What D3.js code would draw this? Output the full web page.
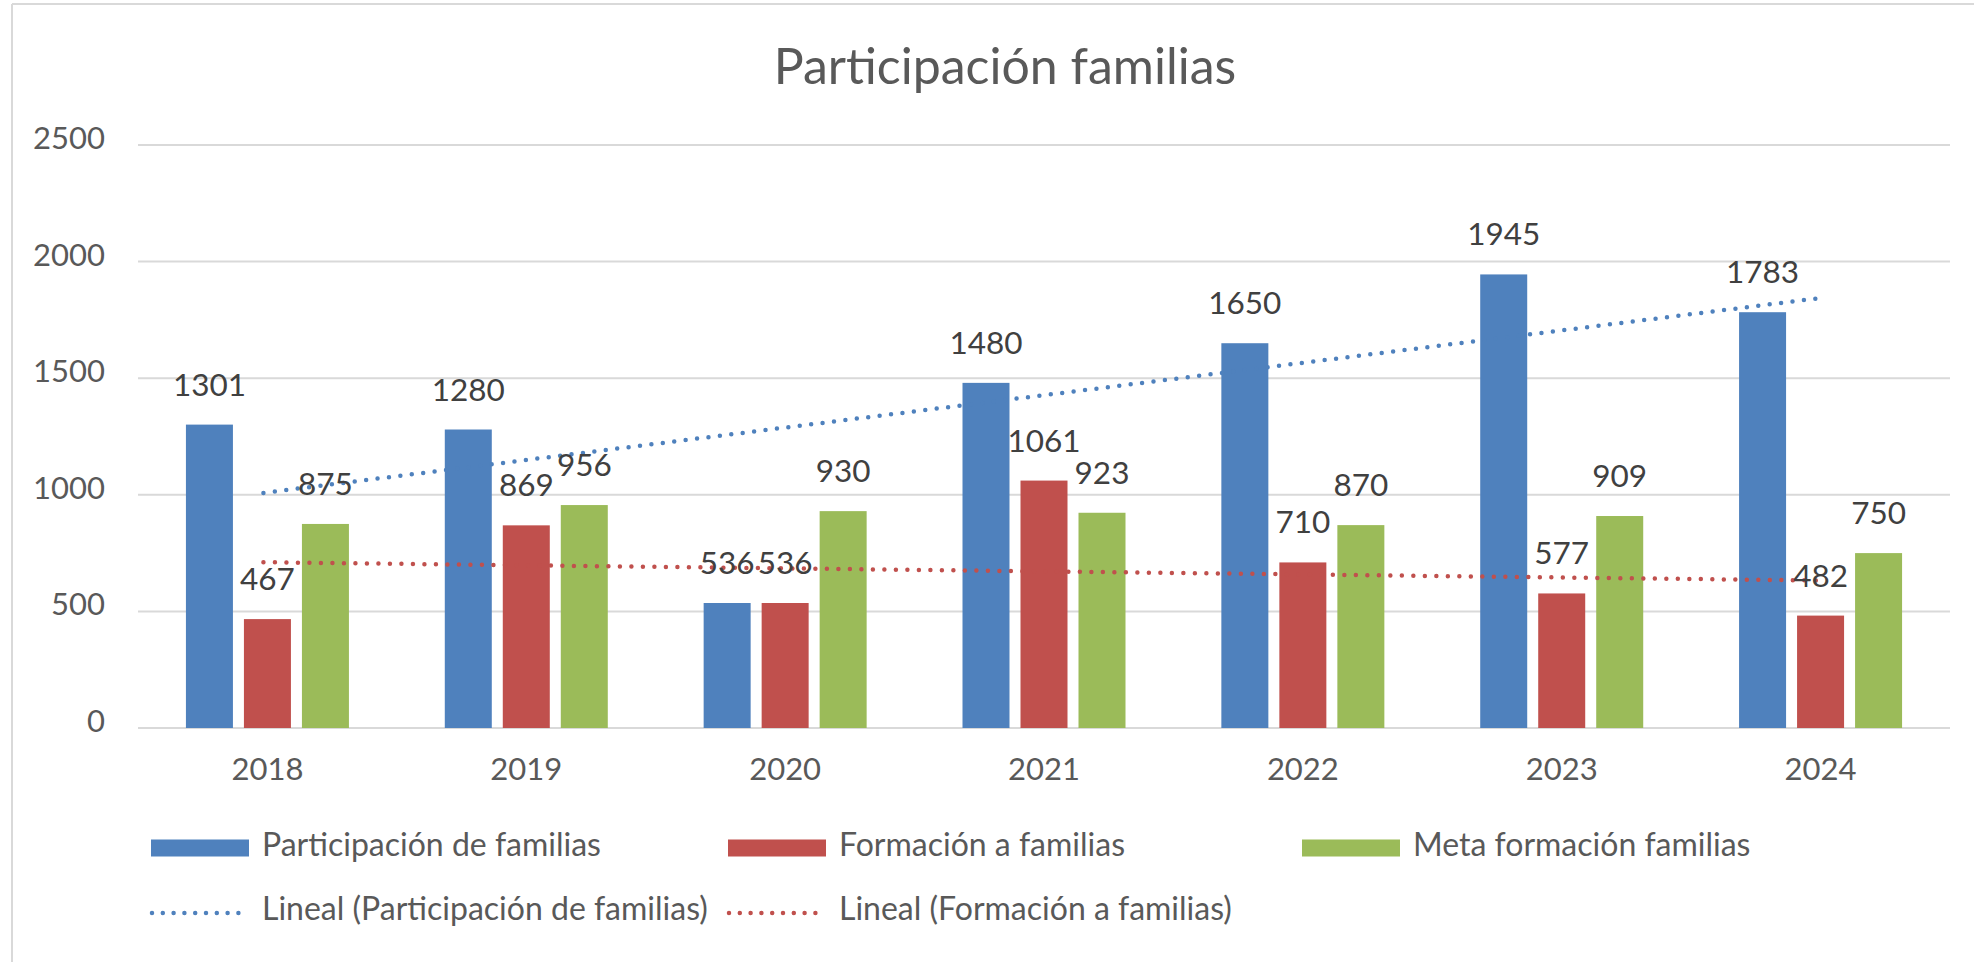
<!DOCTYPE html>
<html>
<head>
<meta charset="utf-8">
<script src="https://cdn.jsdelivr.net/npm/d3@7"></script>
<style>
  body { margin: 0; background: #fff; }
  text { font-family: Lato, "Open Sans", sans-serif; }
</style>
</head>
<body>
<div id="chart"></div>
<script>
// data
var years = ["2018", "2019", "2020", "2021", "2022", "2023", "2024"];
var participacion = [1301, 1280, 536, 1480, 1650, 1945, 1783];
var formacion = [467, 869, 536, 1061, 710, 577, 482];
var meta = [875, 956, 930, 923, 870, 909, 750];
var seriesNames = ["Participación de familias", "Formación a familias", "Meta formación familias"];
var trendNames = ["Lineal (Participación de familias)", "Lineal (Formación a familias)"];
var yTicks = [0, 500, 1000, 1500, 2000, 2500];

var colors = ["#4f81bd", "#c0504d", "#9bbb59"];
var W = 1974, H = 962;

var svg = d3.select("#chart").append("svg")
  .attr("width", W)
  .attr("height", H);

// chart frame
svg.append("line").attr("x1", 12).attr("x2", W).attr("y1", 4).attr("y2", 4)
  .attr("stroke", "#d9d9d9").attr("stroke-width", 2);
svg.append("line").attr("x1", 12).attr("x2", 12).attr("y1", 4).attr("y2", H)
  .attr("stroke", "#d9d9d9").attr("stroke-width", 2);

// title
svg.append("text")
  .attr("x", 1005).attr("y", 84)
  .attr("text-anchor", "middle")
  .style("font-size", "50px")
  .style("fill", "#595959")
  .text("Participación familias");

// scales
var x0 = d3.scaleBand().domain(years).range([138, 1950]);
var groupW = 163;
var x1 = d3.scaleBand().domain([0, 1, 2]).range([0, groupW]).paddingInner(11 / 58);
var y = d3.scaleLinear().domain([0, 2500]).range([728, 145]);

// gridlines
svg.append("g").selectAll("line")
  .data(yTicks)
  .enter().append("line")
    .attr("x1", 138).attr("x2", 1950)
    .attr("y1", function(d) { return y(d); })
    .attr("y2", function(d) { return y(d); })
    .attr("stroke", "#d9d9d9")
    .attr("stroke-width", 2);

// y labels
svg.append("g").selectAll("text")
  .data(yTicks)
  .enter().append("text")
    .attr("x", 105)
    .attr("y", function(d) { return y(d) + 4; })
    .attr("text-anchor", "end")
    .style("font-size", "31px")
    .style("fill", "#595959")
    .text(function(d) { return d; });

// x labels
svg.append("g").selectAll("text")
  .data(years)
  .enter().append("text")
    .attr("x", function(d) { return x0(d) + x0.bandwidth() / 2; })
    .attr("y", 780)
    .attr("text-anchor", "middle")
    .style("font-size", "31px")
    .style("fill", "#595959")
    .text(function(d) { return d; });

// bars
var allSeries = [participacion, formacion, meta];
var barData = [];
years.forEach(function(yr, i) {
  allSeries.forEach(function(s, k) {
    barData.push({year: yr, k: k, value: s[i]});
  });
});

function barX(d) {
  return x0(d.year) + (x0.bandwidth() - groupW) / 2 + x1(d.k);
}

svg.append("g").selectAll("rect")
  .data(barData)
  .enter().append("rect")
    .attr("x", barX)
    .attr("y", function(d) { return y(d.value); })
    .attr("width", x1.bandwidth())
    .attr("height", function(d) { return y(0) - y(d.value); })
    .attr("fill", function(d) { return colors[d.k]; });

// linear trendlines (least squares over category index, as Excel does)
function linearFit(vals) {
  var n = vals.length;
  var xs = d3.range(1, n + 1);
  var mx = d3.mean(xs), my = d3.mean(vals);
  var num = d3.sum(xs, function(xv, i) { return (xv - mx) * (vals[i] - my); });
  var den = d3.sum(xs, function(xv) { return (xv - mx) * (xv - mx); });
  var b = num / den, a = my - b * mx;
  return [a + b * 1, a + b * n];
}

var line = d3.line()
  .x(function(d) { return d[0]; })
  .y(function(d) { return y(d[1]); });

[participacion, formacion].forEach(function(s, k) {
  var ends = linearFit(s);
  var xa = x0(years[0]) + x0.bandwidth() / 2 - 4;
  var xb = x0(years[years.length - 1]) + x0.bandwidth() / 2 - 4;
  svg.append("path")
    .attr("d", line([[xa, ends[0]], [xb, ends[1]]]))
    .attr("fill", "none")
    .attr("stroke", colors[k])
    .attr("stroke-width", 4.5)
    .attr("stroke-linecap", "round")
    .attr("stroke-dasharray", "0 11.5");
});

// data labels
svg.append("g").selectAll("text")
  .data(barData)
  .enter().append("text")
    .attr("x", function(d) { return barX(d) + x1.bandwidth() / 2; })
    .attr("y", function(d) { return y(d.value) - 29; })
    .attr("text-anchor", "middle")
    .style("font-size", "31.5px")
    .style("fill", "#404040")
    .text(function(d) { return d.value; });

// legend
var legX = [151, 728, 1302];
var leg1 = svg.append("g").selectAll("g")
  .data(seriesNames)
  .enter().append("g")
    .attr("transform", function(d, i) { return "translate(" + legX[i] + ",848)"; });
leg1.append("rect")
  .attr("x", 0).attr("y", -8.5)
  .attr("width", 98).attr("height", 17)
  .attr("fill", function(d, i) { return colors[i]; });
leg1.append("text")
  .attr("x", 111).attr("y", 8)
  .style("font-size", "32px")
  .style("fill", "#595959")
  .text(function(d) { return d; });

var leg2 = svg.append("g").selectAll("g")
  .data(trendNames)
  .enter().append("g")
    .attr("transform", function(d, i) { return "translate(" + legX[i] + ",913)"; });
leg2.append("line")
  .attr("x1", 1).attr("x2", 98)
  .attr("y1", 0).attr("y2", 0)
  .attr("stroke", function(d, i) { return colors[i]; })
  .attr("stroke-width", 4.5)
  .attr("stroke-linecap", "round")
  .attr("stroke-dasharray", "0 10.8");
leg2.append("text")
  .attr("x", 111).attr("y", 7)
  .style("font-size", "32px")
  .style("fill", "#595959")
  .text(function(d) { return d; });
</script>
</body>
</html>
